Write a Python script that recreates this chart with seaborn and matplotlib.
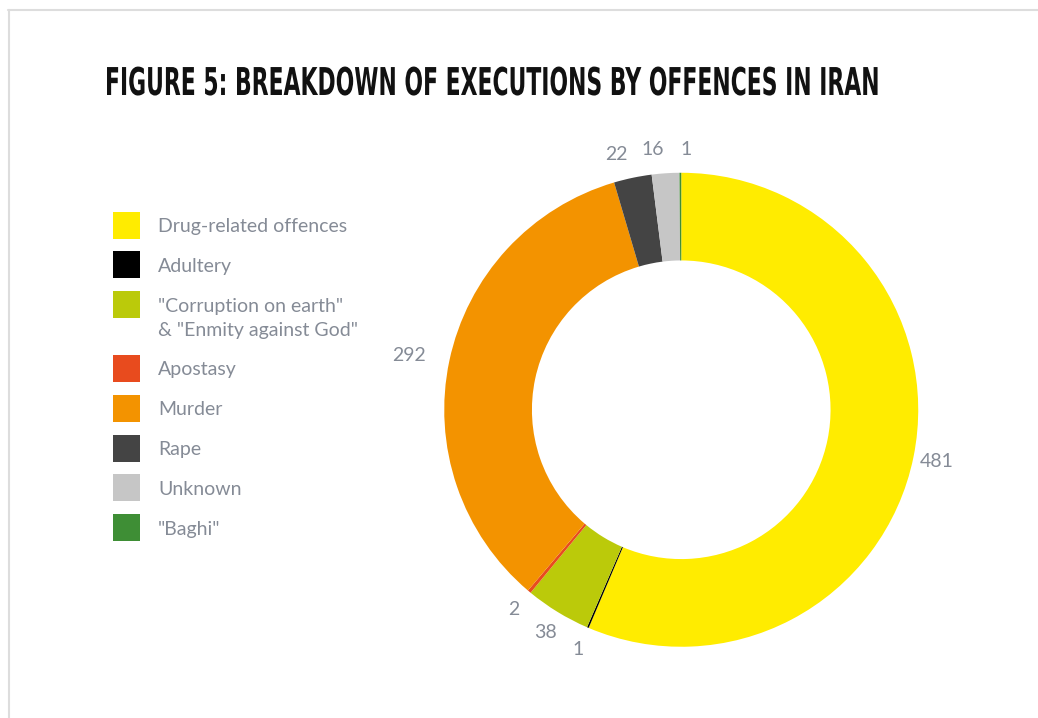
import seaborn as sns
import matplotlib.pyplot as plt
from matplotlib.lines import Line2D
from matplotlib.patches import Rectangle
from matplotlib.patheffects import AbstractPathEffect
from matplotlib.text import Text
from matplotlib.transforms import Affine2D

# Data
offences = [
    "Drug-related offences",
    "Adultery",
    "\"Corruption on earth\"\n& \"Enmity against God\"",
    "Apostasy",
    "Murder",
    "Rape",
    "Unknown",
    "\"Baghi\"",
]
executions = [481, 1, 38, 2, 292, 22, 16, 1]
colours = ["#FFEC00", "#000000", "#BBCA0A", "#E84B1E", "#F39300", "#444444", "#C6C6C6", "#3E8E35"]

title = "FIGURE 5: BREAKDOWN OF EXECUTIONS BY OFFENCES IN IRAN"

W, H = 1038, 718


class SqueezeX(AbstractPathEffect):
    # squeeze glyphs horizontally around x0 (display px) - fakes a condensed face
    def __init__(self, x0, sx):
        super().__init__()
        self.x0 = x0
        self.sx = sx

    def draw_path(self, renderer, gc, tpath, affine, rgbFace=None):
        squeeze = Affine2D().translate(-self.x0, 0).scale(self.sx, 1).translate(self.x0, 0)
        renderer.draw_path(gc, tpath, affine + squeeze, rgbFace)


class SqueezedText(Text):
    # text whose reported extent follows the squeeze
    sx = 1.0

    def get_window_extent(self, renderer=None, dpi=None):
        bb = super().get_window_extent(renderer, dpi)
        squeeze = Affine2D().translate(-bb.x0, 0).scale(self.sx, 1).translate(bb.x0, 0)
        return bb.transformed(squeeze)


sns.set_theme(style="white")
plt.rcParams["font.family"] = ["Lato", "DejaVu Sans"]

text_grey = "#858B96"

fig = plt.figure(figsize=(W / 100, H / 100), dpi=100)

# donut axes, centred around (681, 410) px
ax = fig.add_axes([0.3709, 0.0167, 0.5708, 0.8252])
wedges, texts = ax.pie(
    executions,
    colors=colours,
    labels=[str(v) for v in executions],
    startangle=90,
    counterclock=False,
    labeldistance=1.1,
    wedgeprops=dict(width=0.37, linewidth=0),
    textprops=dict(color=text_grey, fontsize=14),
)
# keep the crowded top labels apart, centre the rest
for t in texts:
    x, y = t.get_position()
    if y > 0.9:
        t.set_ha("right" if x < -0.01 else "left")
    elif x < -0.9:
        t.set_ha("right")
    else:
        t.set_ha("center")
ax.set_xlim(-1.25, 1.25)
ax.set_ylim(-1.25, 1.25)
ax.set_aspect("equal")

# legend drawn by hand: marker lines up with the first text line
line_gap = 24
y = 225
for name, col in zip(offences, colours):
    extra = name.count("\n")
    fig.add_artist(Rectangle((113 / W, 1 - (y + 13.5) / H), 27 / W, 27 / H,
                             transform=fig.transFigure, color=col, lw=0))
    # va="baseline" pins the last line, so push down by the extra lines
    fig.text(158 / W, 1 - (y + 7 + line_gap * extra) / H, name, color=text_grey,
             fontsize=14, ha="left", va="baseline", linespacing=1.45)
    y += 39.8 + line_gap * extra

# title in a squeezed bold face
title_text = SqueezedText(
    105 / W, 1 - 95 / H, title,
    family="DejaVu Sans", fontweight="bold", fontsize=27.6, color="#111111",
    ha="left", va="baseline", transform=fig.transFigure,
)
fig.add_artist(title_text)
fig.canvas.draw()
w = title_text.get_window_extent().width
title_text.sx = 775 / w
title_text.set_path_effects([SqueezeX(105, title_text.sx)])

# thin grey frame at top and left
fig.add_artist(Line2D([8 / W, 1], [1 - 10 / H] * 2, color="#DDDDDD", lw=1.5))
fig.add_artist(Line2D([8.5 / W] * 2, [0, 1 - 10 / H], color="#DDDDDD", lw=1.5))

fig.savefig("out.png", dpi=100)
